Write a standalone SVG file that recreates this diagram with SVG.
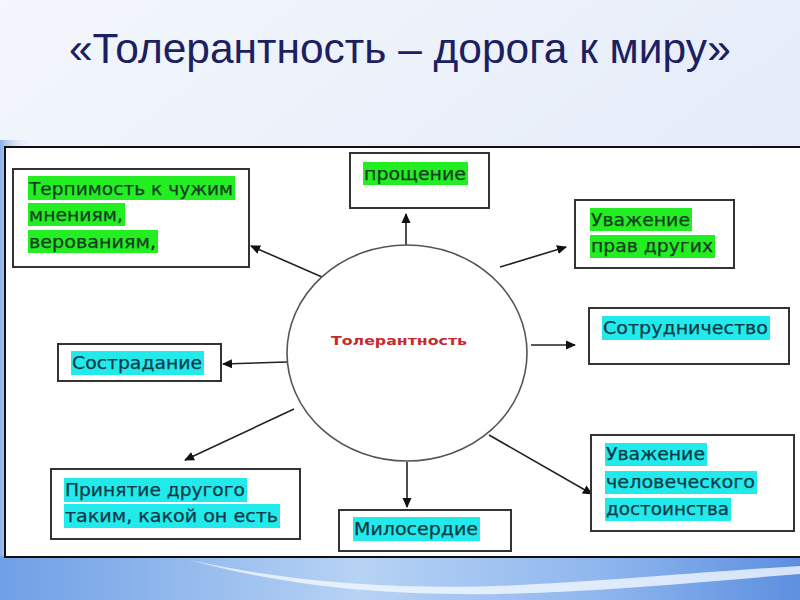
<svg xmlns="http://www.w3.org/2000/svg" width="800" height="600" viewBox="0 0 800 600">
<defs>
<linearGradient id="bg" x1="0" y1="0" x2="1" y2="1">
<stop offset="0" stop-color="#f3f6fc"/>
<stop offset="0.5" stop-color="#e8eef9"/>
<stop offset="1" stop-color="#dde6f6"/>
</linearGradient>
<linearGradient id="wave" x1="0" y1="0" x2="1" y2="0">
<stop offset="0" stop-color="#6f9fe6"/>
<stop offset="0.45" stop-color="#b7d3f4"/>
<stop offset="0.75" stop-color="#8fb6ee"/>
<stop offset="1" stop-color="#5d8fe0"/>
</linearGradient>
<linearGradient id="lstripe" x1="0" y1="0" x2="1" y2="0">
<stop offset="0" stop-color="#8fb0e6"/>
<stop offset="1" stop-color="#e6ecf8" stop-opacity="0"/>
</linearGradient>
<marker id="ah" viewBox="0 0 10 10" refX="9" refY="5" markerWidth="10" markerHeight="10" markerUnits="userSpaceOnUse" orient="auto">
<path d="M0,0.5 L10,5 L0,9.5 z" fill="#111"/>
</marker>
<style>
.box{fill:#fff;stroke:#333;stroke-width:2}
.t{font-family:"DejaVu Sans",Verdana,sans-serif;font-size:18px;stroke-width:0.25}
.g{fill:#22ee22}
.c{fill:#22eaea}
.tg{fill:#163c22;stroke:#163c22}
.tc{fill:#0b3948;stroke:#0b3948}
.ar{stroke:#222;stroke-width:1.6;fill:none;marker-end:url(#ah)}
</style>
</defs>
<rect width="800" height="600" fill="url(#bg)"/>
<rect x="0" y="140" width="30" height="460" fill="url(#lstripe)"/>
<path d="M0,556 L800,556 L800,600 L0,600 z" fill="url(#wave)"/>
<path d="M190,560 C300,585 420,590 520,585 C620,580 700,572 800,566 L800,574 C700,582 600,592 500,594 C380,596 280,585 190,560 z" fill="#f4f9ff" opacity="0.8"/>
<text x="400" y="63" text-anchor="middle" font-family="Liberation Sans,Arial,sans-serif" font-size="43" fill="#1b2160" textLength="662" lengthAdjust="spacingAndGlyphs">«Толерантность – дорога к миру»</text>
<rect x="5" y="147" width="800" height="410" fill="#fff" stroke="#111" stroke-width="2"/>

<g id="connectors">
<line class="ar" x1="322" y1="277" x2="251" y2="246"/>
<line class="ar" x1="406" y1="246" x2="406" y2="214"/>
<line class="ar" x1="500" y1="267" x2="566" y2="247"/>
<line class="ar" x1="531" y1="345" x2="575" y2="345"/>
<line class="ar" x1="287" y1="362" x2="223" y2="364"/>
<line class="ar" x1="294" y1="409" x2="185" y2="460"/>
<line class="ar" x1="407" y1="462" x2="407" y2="507"/>
<line class="ar" x1="489" y1="435" x2="592" y2="494"/>
</g>

<g id="center">
<ellipse cx="407" cy="353" rx="120" ry="108" fill="#fff" stroke="#555" stroke-width="1.6"/>
<text x="399" y="345" text-anchor="middle" font-family="DejaVu Sans,Verdana,sans-serif" font-weight="bold" font-size="12" fill="#c8282e" textLength="136" lengthAdjust="spacingAndGlyphs">Толерантность</text>
</g>

<g id="n1">
<rect class="box" x="13" y="169" width="236" height="98"/>
<rect class="g" x="28" y="176" width="207" height="24"/>
<rect class="g" x="28" y="203" width="97" height="23"/>
<rect class="g" x="28" y="230" width="130" height="23"/>
<text class="t tg" x="29" y="195" textLength="204" lengthAdjust="spacingAndGlyphs">Терпимость к чужим</text>
<text class="t tg" x="29" y="221" textLength="94" lengthAdjust="spacingAndGlyphs">мнениям,</text>
<text class="t tg" x="29" y="248" textLength="127" lengthAdjust="spacingAndGlyphs">верованиям,</text>
</g>

<g id="n2">
<rect class="box" x="350" y="153" width="139" height="55"/>
<rect class="g" x="363" y="162" width="105" height="23"/>
<text class="t tg" x="364" y="180" textLength="102" lengthAdjust="spacingAndGlyphs">прощение</text>
</g>

<g id="n3">
<rect class="box" x="575" y="200" width="159" height="68"/>
<rect class="g" x="590" y="208" width="102" height="23"/>
<rect class="g" x="590" y="235" width="125" height="23"/>
<text class="t tg" x="591" y="226" textLength="99" lengthAdjust="spacingAndGlyphs">Уважение</text>
<text class="t tg" x="591" y="252" textLength="122" lengthAdjust="spacingAndGlyphs">прав других</text>
</g>

<g id="n4">
<rect class="box" x="589" y="308" width="200" height="56"/>
<rect class="c" x="602" y="316" width="168" height="24"/>
<text class="t tc" x="603" y="334" textLength="165" lengthAdjust="spacingAndGlyphs">Сотрудничество</text>
</g>

<g id="n5">
<rect class="box" x="58" y="344" width="163" height="37"/>
<rect class="c" x="71" y="351" width="133" height="24"/>
<text class="t tc" x="72" y="369" textLength="130" lengthAdjust="spacingAndGlyphs">Сострадание</text>
</g>

<g id="n6">
<rect class="box" x="51" y="469" width="249" height="70"/>
<rect class="c" x="64" y="478" width="183" height="24"/>
<rect class="c" x="64" y="504" width="216" height="24"/>
<text class="t tc" x="65" y="496" textLength="180" lengthAdjust="spacingAndGlyphs">Принятие другого</text>
<text class="t tc" x="65" y="522" textLength="213" lengthAdjust="spacingAndGlyphs">таким, какой он есть</text>
</g>

<g id="n7">
<rect class="box" x="339" y="510" width="172" height="41"/>
<rect class="c" x="353" y="517" width="127" height="24"/>
<text class="t tc" x="354" y="535" textLength="124" lengthAdjust="spacingAndGlyphs">Милосердие</text>
</g>

<g id="n8">
<rect class="box" x="591" y="435" width="203" height="96"/>
<rect class="c" x="605" y="443" width="102" height="23"/>
<rect class="c" x="605" y="471" width="152" height="23"/>
<rect class="c" x="605" y="498" width="126" height="23"/>
<text class="t tc" x="606" y="460" textLength="99" lengthAdjust="spacingAndGlyphs">Уважение</text>
<text class="t tc" x="606" y="488" textLength="149" lengthAdjust="spacingAndGlyphs">человеческого</text>
<text class="t tc" x="606" y="515" textLength="123" lengthAdjust="spacingAndGlyphs">достоинства</text>
</g>
</svg>
